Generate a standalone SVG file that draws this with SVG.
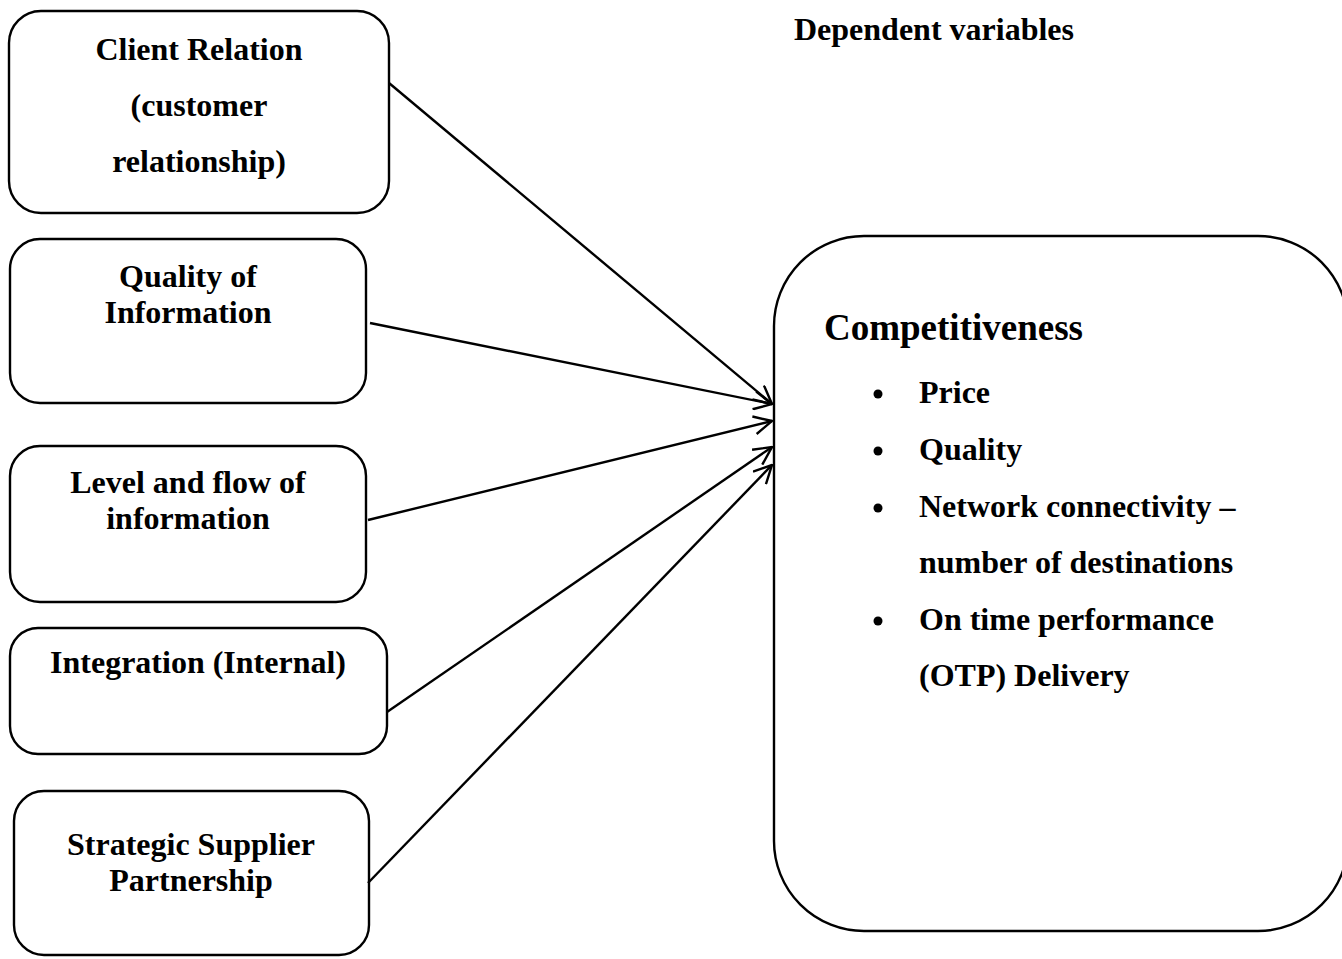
<svg xmlns="http://www.w3.org/2000/svg" width="1342" height="959" viewBox="0 0 1342 959">
<style>
.box{fill:#fff;stroke:#000;stroke-width:2.4}
.t{font-family:"Liberation Serif","Times New Roman",serif;font-weight:bold;font-size:32px;fill:#000}
.c{text-anchor:middle}
.con line{stroke:#000;stroke-width:2.4;fill:none}
</style>
<defs>
<marker id="ah" viewBox="0 0 20 20" refX="19" refY="10" markerWidth="20" markerHeight="20" markerUnits="userSpaceOnUse" orient="auto">
<path d="M1,1 L19,10 L1,19" fill="none" stroke="#000" stroke-width="2.4"/>
</marker>
</defs>
<rect width="1342" height="959" fill="#fff"/>
<text class="t" x="794" y="40">Dependent variables</text>
<g id="client">
<rect class="box" x="9" y="11" width="380" height="202" rx="32"/>
<text class="t c" x="199" y="60">Client Relation</text>
<text class="t c" x="199" y="116">(customer</text>
<text class="t c" x="199" y="172">relationship)</text>
</g>
<g id="quality">
<rect class="box" x="10" y="239" width="356" height="164" rx="30"/>
<text class="t c" x="188" y="287">Quality of</text>
<text class="t c" x="188" y="323">Information</text>
</g>
<g id="level">
<rect class="box" x="10" y="446" width="356" height="156" rx="30"/>
<text class="t c" x="188" y="493">Level and flow of</text>
<text class="t c" x="188" y="529">information</text>
</g>
<g id="integration">
<rect class="box" x="10" y="628" width="377" height="126" rx="28"/>
<text class="t c" x="198" y="673">Integration (Internal)</text>
</g>
<g id="supplier">
<rect class="box" x="14" y="791" width="355" height="164" rx="30"/>
<text class="t c" x="191" y="855">Strategic Supplier</text>
<text class="t c" x="191" y="891">Partnership</text>
</g>
<g id="competitiveness">
<rect class="box" x="774" y="236" width="574" height="695" rx="90"/>
<text class="t" x="824" y="340" style="font-size:37px">Competitiveness</text>
<g>
<circle cx="878" cy="394" r="4.5"/>
<circle cx="878" cy="451" r="4.5"/>
<circle cx="878" cy="508" r="4.5"/>
<circle cx="878" cy="621" r="4.5"/>
</g>
<text class="t" x="919" y="403">Price</text>
<text class="t" x="919" y="460">Quality</text>
<text class="t" x="919" y="517">Network connectivity –</text>
<text class="t" x="919" y="573">number of destinations</text>
<text class="t" x="919" y="630">On time performance</text>
<text class="t" x="919" y="686">(OTP) Delivery</text>
</g>
<g id="connectors" class="con">
<line x1="389" y1="83" x2="772" y2="404" marker-end="url(#ah)"/>
<line x1="370" y1="323" x2="772" y2="404" marker-end="url(#ah)"/>
<line x1="368" y1="520" x2="772" y2="421" marker-end="url(#ah)"/>
<line x1="387" y1="712" x2="772" y2="447" marker-end="url(#ah)"/>
<line x1="368" y1="883" x2="772" y2="465" marker-end="url(#ah)"/>
</g>
</svg>
